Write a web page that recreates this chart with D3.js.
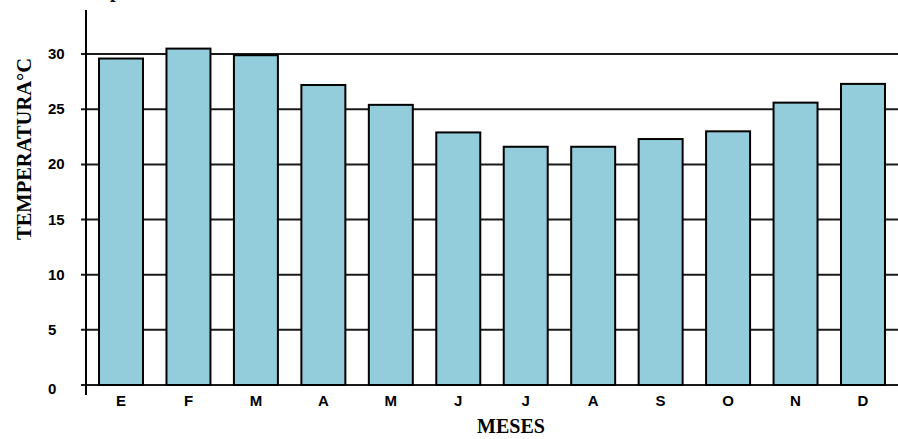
<!DOCTYPE html>
<html>
<head>
<meta charset="utf-8">
<script src="https://cdn.jsdelivr.net/npm/d3@7"></script>
<style>
  html, body { margin: 0; padding: 0; background: #fff; }
  svg { display: block; }
</style>
</head>
<body>
<svg id="chart" width="898" height="439"></svg>
<script>
// Monthly mean temperature (°C)
const months = ["E", "F", "M", "A", "M", "J", "J", "A", "S", "O", "N", "D"];
const temps = [29.6, 30.5, 29.9, 27.2, 25.4, 22.9, 21.6, 21.6, 22.3, 23.0, 25.6, 27.3];
const yTicks = [0, 5, 10, 15, 20, 25, 30];
const yTitle = "TEMPERATURA°C";
const xTitle = "MESES";
const chartTitle = "Temperatura media mensual";

const W = 898, H = 439;
const svg = d3.select("#chart");

const axisX = 86;
const x = d3.scaleBand()
  .domain(d3.range(months.length))
  .range([axisX, W])
  .paddingInner(0.348)
  .paddingOuter(0.193);

const y = d3.scaleLinear().domain([0, 34]).range([385, 10]);

// Title (runs off the top edge)
svg.append("text")
  .attr("x", 73).attr("y", -3)
  .attr("font-family", "Liberation Serif, Times New Roman, serif")
  .attr("font-weight", "bold")
  .attr("font-size", 20)
  .attr("fill", "#000")
  .text(chartTitle);

// Horizontal gridlines with short ticks left of the axis
svg.append("g").selectAll("line")
  .data(yTicks)
  .join("line")
  .attr("x1", axisX - 5).attr("x2", W)
  .attr("y1", d => y(d)).attr("y2", d => y(d))
  .attr("stroke", "#1a1a1a").attr("stroke-width", 2);

// Y tick labels (left aligned)
svg.append("g").selectAll("text")
  .data(yTicks)
  .join("text")
  .attr("x", 48)
  .attr("y", d => y(d) + (d === 0 ? 9 : 5))
  .attr("font-family", "Liberation Sans, Arial, sans-serif")
  .attr("font-weight", "bold")
  .attr("font-size", 15)
  .attr("fill", "#000")
  .text(d => d);

// Bars
svg.append("g").selectAll("rect")
  .data(temps)
  .join("rect")
  .attr("x", (d, i) => x(i))
  .attr("y", d => y(d))
  .attr("width", x.bandwidth())
  .attr("height", d => y(0) - y(d))
  .attr("fill", "#93cddb")
  .attr("stroke", "#000")
  .attr("stroke-width", 2);

// Vertical axis line
svg.append("line")
  .attr("x1", axisX).attr("x2", axisX)
  .attr("y1", y.range()[1]).attr("y2", y(0) + 10)
  .attr("stroke", "#000").attr("stroke-width", 2);

// Month labels
svg.append("g").selectAll("text")
  .data(months)
  .join("text")
  .attr("x", (d, i) => x(i) + x.bandwidth() / 2)
  .attr("y", 406)
  .attr("text-anchor", "middle")
  .attr("font-family", "Liberation Sans, Arial, sans-serif")
  .attr("font-weight", "bold")
  .attr("font-size", 15)
  .attr("fill", "#000")
  .text(d => d);

// X axis title
svg.append("text")
  .attr("x", 511).attr("y", 433)
  .attr("text-anchor", "middle")
  .attr("font-family", "Liberation Serif, Times New Roman, serif")
  .attr("font-weight", "bold")
  .attr("font-size", 20)
  .attr("fill", "#000")
  .text(xTitle);

// Y axis title (condensed to fit beside the axis)
svg.append("text")
  .attr("transform", "translate(31,149) rotate(-90)")
  .attr("text-anchor", "middle")
  .attr("font-family", "Liberation Serif, Times New Roman, serif")
  .attr("font-weight", "bold")
  .attr("font-size", 22)
  .attr("textLength", 182)
  .attr("lengthAdjust", "spacingAndGlyphs")
  .attr("fill", "#000")
  .text(yTitle);
</script>
</body>
</html>
